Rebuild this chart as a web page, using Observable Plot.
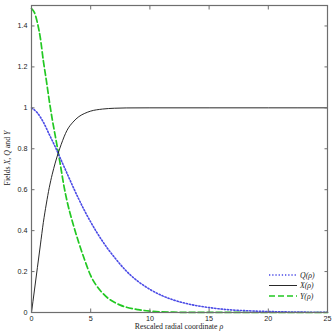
<!DOCTYPE html>
<html><head><meta charset="utf-8">
<script src="https://cdn.jsdelivr.net/npm/d3@7"></script>
<script src="https://cdn.jsdelivr.net/npm/@observablehq/plot@0.6"></script>
<style>body{margin:0;background:#fff}</style>
</head><body><div id="chart"></div>
<script>
const rhoX = [0,0.25,0.5,0.75,1,1.25,1.5,1.75,2,2.5,3,3.5,4,4.5,5,6,7,8,10,15,20,25];
const valX = [0,0.11,0.22,0.33,0.44,0.53,0.61,0.675,0.73,0.82,0.89,0.93,0.957,0.973,0.984,0.994,0.998,0.9995,1,1,1,1];
const rhoQ = [0,0.5,1,1.5,2,2.5,3,3.5,4,4.5,5,5.5,6,6.5,7,7.5,8,9,10,11,12,13,14,15,16,17,18,19,20,22,25];
const valQ = [1,0.975,0.93,0.87,0.81,0.745,0.68,0.615,0.553,0.495,0.442,0.393,0.348,0.307,0.27,0.235,0.203,0.152,0.113,0.083,0.061,0.045,0.033,0.024,0.017,0.012,0.009,0.0065,0.0047,0.0024,0.001];
const rhoY = [0,0.25,0.5,0.75,1,1.25,1.5,1.75,2,2.25,2.5,2.75,3,3.5,4,4.5,5,5.5,6,6.5,7,7.5,8,9,10,11,12,14,25];
const valY = [1.485,1.465,1.415,1.34,1.23,1.135,1.035,0.945,0.865,0.785,0.7,0.615,0.545,0.435,0.34,0.255,0.18,0.13,0.095,0.068,0.05,0.036,0.026,0.014,0.007,0.003,0.0015,0.0003,0];
const xTicks = [0,5,10,15,20,25];
const yTicks = [0,0.2,0.4,0.6,0.8,1,1.2,1.4];
const seriesNames = ["Q(ρ)","X(ρ)","Y(ρ)"];
const seriesColors = ["#4a4ae6","#111111","#22c822"];
const seriesDash = ["1.3,1.9",null,"6,3"];
const seriesWidth = [1.6,0.9,1.7];

const dataX = rhoX.map((r,i)=>({rho:r, v:valX[i]}));
const dataQ = rhoQ.map((r,i)=>({rho:r, v:valQ[i]}));
const dataY = rhoY.map((r,i)=>({rho:r, v:valY[i]}));

const axisStroke = "#6e6e6e";
const svg = Plot.plot({
  width:336, height:336,
  marginLeft:31, marginRight:9, marginTop:5, marginBottom:24,
  style:{fontFamily:"'Liberation Sans', Arial, sans-serif", fontSize:"7.2px", color:"#222", background:"#fff"},
  x:{domain:[0,25]},
  y:{domain:[0,1.5]},
  marks:[
    Plot.lineY(dataY,{x:"rho", y:"v", stroke:seriesColors[2], strokeWidth:seriesWidth[2], strokeDasharray:seriesDash[2], curve:"monotone-x"}),
    Plot.lineY(dataQ,{x:"rho", y:"v", stroke:seriesColors[0], strokeWidth:seriesWidth[0], strokeDasharray:seriesDash[0], curve:"monotone-x"}),
    Plot.lineY(dataX,{x:"rho", y:"v", stroke:seriesColors[1], strokeWidth:seriesWidth[1], curve:"monotone-x"}),
    Plot.axisX({ticks:xTicks, anchor:"bottom", tickSize:0, tickPadding:3, label:null, tickFormat:d=>`${d}`}),
    Plot.axisY({ticks:yTicks, anchor:"left", tickSize:0, tickPadding:4, label:null, tickFormat:d=>`${d}`}),
    Plot.axisX({ticks:xTicks, anchor:"bottom", tickSize:-3.5, text:null, label:null, stroke:axisStroke}),
    Plot.axisX({ticks:xTicks, anchor:"top", tickSize:-3.5, text:null, label:null, stroke:axisStroke}),
    Plot.axisY({ticks:yTicks, anchor:"left", tickSize:-3.5, text:null, label:null, stroke:axisStroke}),
    Plot.axisY({ticks:yTicks, anchor:"right", tickSize:-3.5, text:null, label:null, stroke:axisStroke}),
    Plot.frame({stroke:axisStroke, strokeWidth:1.2})
  ]
});
document.getElementById("chart").appendChild(svg);

const s = d3.select(svg);
const serif = "'Liberation Serif', 'Times New Roman', serif";
// x axis title
const xt = s.append("text").attr("x",179).attr("y",329).attr("text-anchor","middle")
  .attr("font-family",serif).attr("font-size","7.8px").attr("fill","#222");
xt.append("tspan").text("Rescaled radial coordinate ");
xt.append("tspan").attr("font-style","italic").text("ρ");
// y axis title
const yt = s.append("text").attr("transform","translate(10,158) rotate(-90)").attr("text-anchor","middle")
  .attr("font-family",serif).attr("font-size","7.8px").attr("fill","#222");
yt.append("tspan").text("Fields ");
yt.append("tspan").attr("font-style","italic").text("X");
yt.append("tspan").text(", ");
yt.append("tspan").attr("font-style","italic").text("Q");
yt.append("tspan").text(" and ");
yt.append("tspan").attr("font-style","italic").text("Y");
// legend
const legY = [275,285.5,296];
seriesNames.forEach((n,i)=>{
  const ln = s.append("line").attr("x1",269).attr("x2",297).attr("y1",legY[i]).attr("y2",legY[i])
    .attr("stroke",seriesColors[i]).attr("stroke-width",seriesWidth[i]);
  if (seriesDash[i]) ln.attr("stroke-dasharray",seriesDash[i]);
  s.append("text").attr("x",300).attr("y",legY[i]).attr("dy","0.35em").attr("text-anchor","start")
    .attr("font-family",serif).attr("font-size","7.8px").attr("font-style","italic").attr("fill","#222").text(n);
});
</script>
</body></html>
